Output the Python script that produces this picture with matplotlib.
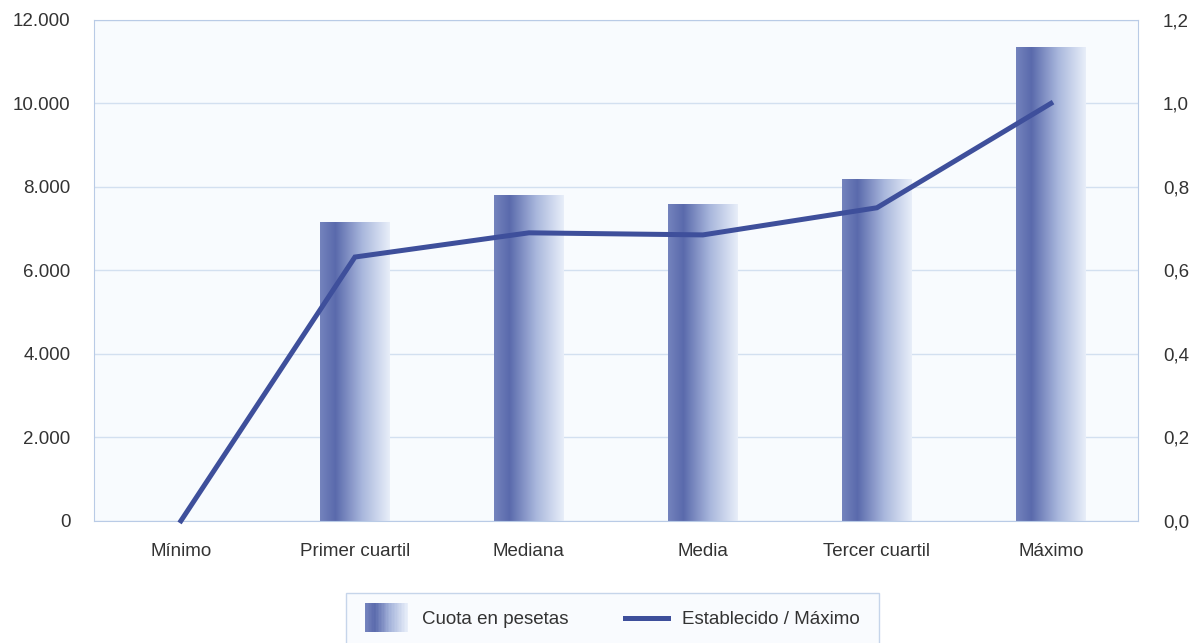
import numpy as np
import matplotlib
matplotlib.use("Agg")
import matplotlib.pyplot as plt
from matplotlib.colors import LinearSegmentedColormap
from matplotlib.patches import Rectangle
from matplotlib.lines import Line2D
from matplotlib.legend_handler import HandlerBase
from matplotlib.ticker import FuncFormatter

plt.rcParams['font.family'] = ['Liberation Sans', 'DejaVu Sans']

categorias = ["Mínimo", "Primer cuartil", "Mediana", "Media", "Tercer cuartil", "Máximo"]
cuota = [0, 7150, 7800, 7600, 8200, 11350]
establecido = [0.0, 0.632, 0.69, 0.685, 0.75, 1.0]

grad = LinearSegmentedColormap.from_list(
    "barra", [(0.0, "#7483bd"), (0.22, "#5a6aac"), (0.6, "#a8b6dc"), (1.0, "#e8eef9")])
line_color = "#3e4f9b"
text_color = "#333333"
grid_color = "#d3e0f0"
fs = 13.5


class HandlerGradient(HandlerBase):
    def create_artists(self, legend, orig_handle, xdescent, ydescent,
                       width, height, fontsize, trans):
        n = 30
        w = width
        h = height * 2.2
        y0 = -ydescent - (h - height) / 2
        arts = []
        for i in range(n):
            r = Rectangle((-xdescent + w * i / n, y0), w / n + 0.3, h,
                          facecolor=grad(i / (n - 1)), edgecolor="none",
                          transform=trans)
            arts.append(r)
        return arts


fig = plt.figure(figsize=(11.89, 6.43), dpi=100)
ax = fig.add_axes([0.079, 0.19, 0.878, 0.779])
ax.set_facecolor("#f8fbfe")
x = np.arange(len(categorias))

bars = ax.bar(x, cuota, width=0.40, color="none", edgecolor="none", zorder=2)
gimg = np.linspace(0, 1, 256).reshape(1, -1)
for b in bars:
    if b.get_height() <= 0:
        continue
    x0, w, h = b.get_x(), b.get_width(), b.get_height()
    im = ax.imshow(gimg, cmap=grad, aspect="auto", extent=[x0, x0 + w, 0, h],
                   zorder=2, interpolation="bilinear")
    im.set_clip_path(b)

ax.set_xlim(-0.5, len(categorias) - 0.5)
ax.set_ylim(0, 12000)
ax.set_yticks(np.arange(0, 12001, 2000))
ax.yaxis.set_major_formatter(FuncFormatter(lambda v, p: f"{int(v):,}".replace(",", ".")))
ax.grid(axis="y", color=grid_color, linewidth=1, zorder=0)
ax.set_axisbelow(True)
ax.set_xticks(x)
ax.set_xticklabels(categorias)
ax.tick_params(axis="both", length=0, labelsize=fs, colors=text_color)
ax.tick_params(axis="y", pad=17)
ax.tick_params(axis="x", pad=16)
for s in ax.spines.values():
    s.set_color("#b9cbe6")

ax2 = ax.twinx()
ax2.plot(x, establecido, color=line_color, linewidth=3.6, solid_joinstyle="miter",
         clip_on=False, zorder=3)
ax2.set_ylim(0, 1.2)
ax2.set_yticks(np.arange(0, 1.21, 0.2))
ax2.yaxis.set_major_formatter(FuncFormatter(lambda v, p: f"{v:.1f}".replace(".", ",")))
ax2.tick_params(axis="y", length=0, labelsize=fs, colors=text_color, pad=18)
for s in ax2.spines.values():
    s.set_visible(False)

h_bar = Rectangle((0, 0), 1, 1)
h_line = Line2D([], [], color=line_color, linewidth=3.6)
leg = fig.legend([h_bar, h_line], ["Cuota en pesetas", "Establecido / Máximo"],
                 loc="center", bbox_to_anchor=(0.515, 0.036), ncol=2,
                 handler_map={Rectangle: HandlerGradient()},
                 fontsize=fs, frameon=True, fancybox=False, borderpad=1.0,
                 handlelength=2.3, handletextpad=0.75, columnspacing=3.0)
leg.get_frame().set_edgecolor("#b9cbe6")
leg.get_frame().set_facecolor("#f8fbfe")
leg.get_frame().set_linewidth(1.0)
for t in leg.get_texts():
    t.set_color(text_color)

fig.savefig("out.png", dpi=100)
